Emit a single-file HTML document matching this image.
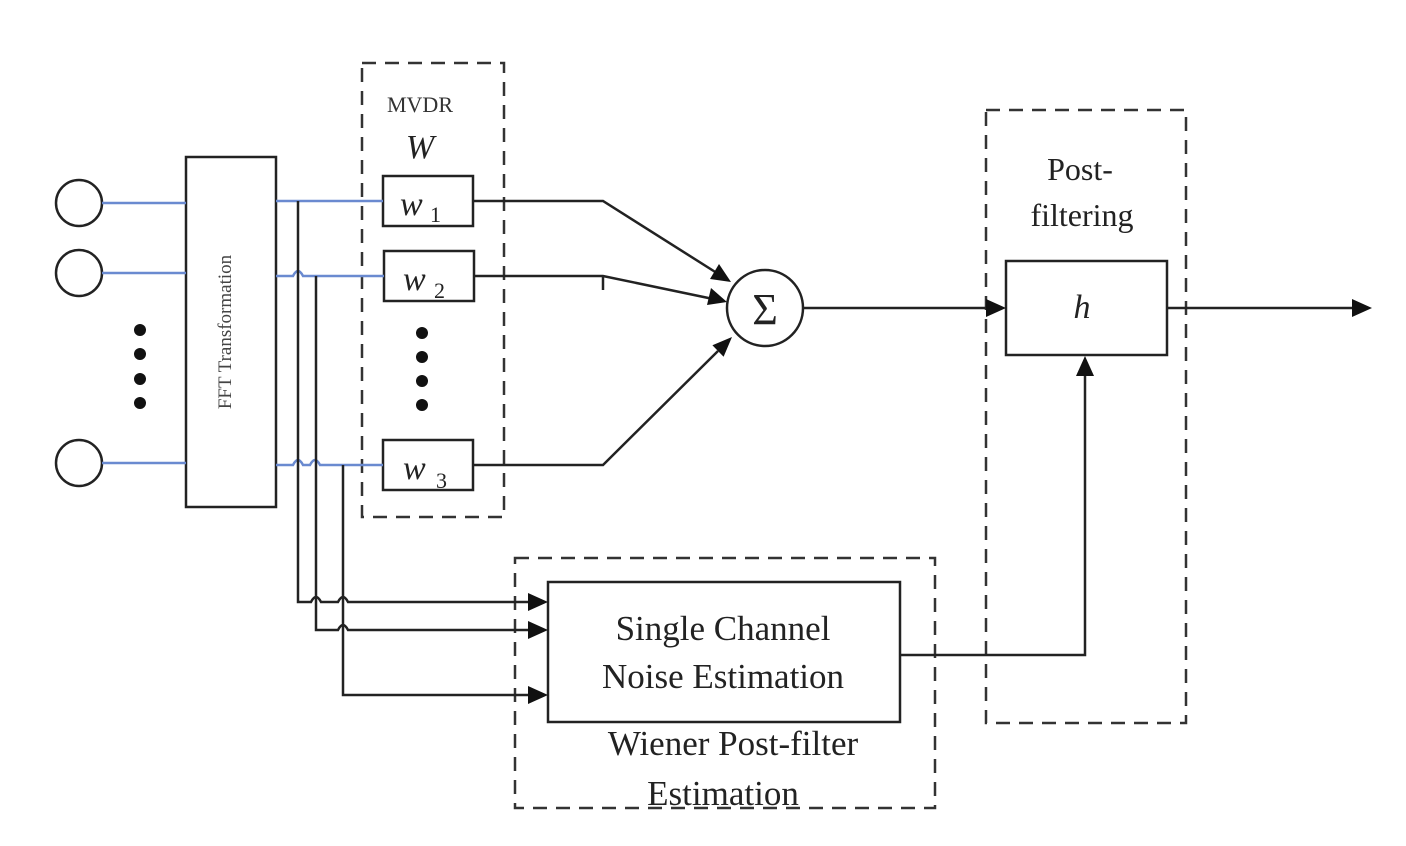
<!DOCTYPE html>
<html><head><style>html,body{margin:0;padding:0;background:#fff}svg{display:block}</style></head>
<body>
<svg width="1406" height="846" viewBox="0 0 1406 846" xmlns="http://www.w3.org/2000/svg" font-family="Liberation Serif, serif">
<rect width="1406" height="846" fill="#fff"/>
<g fill="none" stroke="#222" stroke-width="2.5">
<circle cx="79" cy="203" r="23"/><circle cx="79" cy="273" r="23"/><circle cx="79" cy="463" r="23"/>
<rect x="186" y="157" width="90" height="350"/>
<rect x="383" y="176" width="90" height="50"/>
<rect x="384" y="251" width="90" height="50"/>
<rect x="383" y="440" width="90" height="50"/>
<circle cx="765" cy="308" r="38"/>
<rect x="1006" y="261" width="161" height="94"/>
<rect x="548" y="582" width="352" height="140"/>
</g>
<g fill="none" stroke="#333" stroke-width="2.5" stroke-dasharray="14,9">
<rect x="362" y="63" width="142" height="454"/>
<rect x="986" y="110" width="200" height="613"/>
<rect x="515" y="558" width="420" height="250"/>
</g>
<g fill="none" stroke="#6a8ad0" stroke-width="2.5">
<path d="M102 203H186M102 273H186M102 463H186"/>
<path d="M276 201H383"/>
<path d="M276 276H293q5 -10 10 0H384"/>
<path d="M276 465H293q5 -10 10 0h7q5 -10 10 0H383"/>
</g>
<g fill="none" stroke="#222" stroke-width="2.5">
<path d="M298 201V602H311q5 -10 10 0h17q5 -10 10 0H540"/>
<path d="M316 276V630H338q5 -10 10 0H540"/>
<path d="M343 465V695H540"/>
<path d="M473 201H603L720 275"/>
<path d="M474 276H603L718 300"/>
<path d="M603 276V290"/>
<path d="M473 465H603L718 351"/>
<path d="M803 308H995"/>
<path d="M1167 308H1360"/>
<path d="M900 655H1085V366"/>
</g>
<g fill="#111">
<path d="M548 602l-20 -9v18z"/>
<path d="M548 630l-20 -9v18z"/>
<path d="M548 695l-20 -9v18z"/>
<path d="M1006 308l-20 -9v18z"/>
<path d="M1372 308l-20 -9v18z"/>
<path d="M1085 356l-9 20h18z"/>
<path d="M731 282l-21 -3 9 -15z"/>
<path d="M727 302l-20 3 4 -17z"/>
<path d="M732 337L723.6 356.7L712.4 345.3z"/>
<circle cx="140" cy="330" r="6"/><circle cx="140" cy="354" r="6"/><circle cx="140" cy="379" r="6"/><circle cx="140" cy="403" r="6"/>
<circle cx="422" cy="333" r="6"/><circle cx="422" cy="357" r="6"/><circle cx="422" cy="381" r="6"/><circle cx="422" cy="405" r="6"/>
</g>
<g fill="#222">
<text x="231" y="332" font-size="19" text-anchor="middle" transform="rotate(-90 231 332)" fill="#444">FFT Transformation</text>
<text x="420" y="112" font-size="22" text-anchor="middle" fill="#333">MVDR</text>
<text x="420" y="158" font-size="34" font-style="italic" text-anchor="middle">W</text>
<text x="400" y="215" font-size="34" font-style="italic">w</text><text x="430" y="222" font-size="22">1</text>
<text x="403" y="290" font-size="34" font-style="italic">w</text><text x="434" y="298" font-size="22">2</text>
<text x="403" y="479" font-size="34" font-style="italic">w</text><text x="436" y="488" font-size="22">3</text>
<text x="765" y="324" font-size="44" text-anchor="middle">Σ</text>
<text x="1080" y="180" font-size="32" text-anchor="middle">Post-</text>
<text x="1082" y="226" font-size="32" text-anchor="middle">filtering</text>
<text x="1082" y="318" font-size="34" font-style="italic" text-anchor="middle">h</text>
<text x="723" y="640" font-size="35" text-anchor="middle">Single Channel</text>
<text x="723" y="688" font-size="35" text-anchor="middle">Noise Estimation</text>
<text x="733" y="755" font-size="35" text-anchor="middle">Wiener Post-filter</text>
<text x="723" y="805" font-size="35" text-anchor="middle">Estimation</text>
</g>
</svg>
</body></html>
